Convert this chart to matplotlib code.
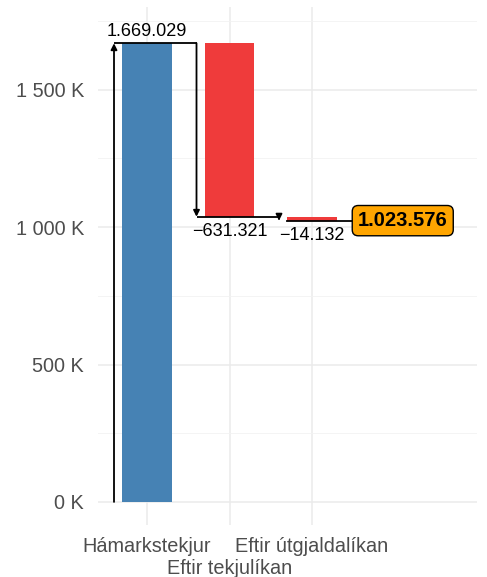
import numpy as np
import matplotlib.pyplot as plt
from matplotlib.ticker import FuncFormatter

plt.rcParams['font.family'] = ['Liberation Sans', 'DejaVu Sans']

# %%
categories = ['Hámarkstekjur', 'Eftir tekjulíkan', 'Eftir útgjaldalíkan']
changes = [1669029, -631321, -14132]
bar_colors = ['#4682B4', '#EF3B3B', '#EF3B3B']


def isl(v):
    s = f"{abs(v):,.0f}".replace(',', '.')
    return ('\u2212' + s) if v < 0 else s


# %%
levels = np.cumsum(changes)
starts = np.concatenate([[0], levels[:-1]])
x = np.arange(1, len(categories) + 1)
w = 0.6

fig = plt.figure(figsize=(4.87, 5.77), dpi=100)
ax = fig.add_axes([98 / 487, 52 / 577, 379 / 487, 518 / 577])

for i in range(len(changes)):
    lo, hi = sorted([starts[i], levels[i]])
    ax.bar(x[i], hi - lo, bottom=lo, width=w, color=bar_colors[i], zorder=2)

# step arrows and connectors
for i in range(len(changes)):
    left = x[i] - w / 2
    ax.annotate('', xy=(left - 0.1, levels[i]), xytext=(left - 0.1, starts[i]),
                arrowprops=dict(arrowstyle='-|>', color='black', lw=1.3,
                                mutation_scale=9, shrinkA=0, shrinkB=0),
                zorder=4)
    if i < len(changes) - 1:
        ax.plot([left - 0.1, x[i + 1] - w / 2 - 0.1], [levels[i], levels[i]],
                color='black', lw=1.3, zorder=3, solid_capstyle='butt')
    else:
        ax.plot([left, 3.5], [levels[i], levels[i]], color='black', lw=1.3, zorder=3)

# value labels
ax.text(x[0], levels[0] + 12000, isl(changes[0]), ha='center', va='bottom', fontsize=13, zorder=5)
for i in range(1, len(changes)):
    ax.text(x[i], levels[i] - 24000, isl(changes[i]), ha='center', va='top', fontsize=13, zorder=5)

ax.text(4.1, levels[-1], isl(levels[-1]), ha='center', va='center', fontsize=14.5,
        fontweight='bold', zorder=6,
        bbox=dict(boxstyle='round,pad=0.28,rounding_size=0.3', fc='#FFA500', ec='black', lw=1))

# %%
ax.set_xlim(0.406, 5.0)
ax.set_ylim(-84000, 1801000)
# middle label goes on a second row (minor tick with larger pad)
ax.xaxis.remove_overlapping_locs = False
ax.set_xticks(x)
ax.set_xticklabels([categories[0], '', categories[2]])
ax.set_xticks([x[1]], minor=True)
ax.set_xticklabels([categories[1]], minor=True)
ax.set_yticks([0, 500000, 1000000, 1500000])
ax.set_yticks([250000, 750000, 1250000, 1750000], minor=True)
ax.yaxis.set_major_formatter(FuncFormatter(lambda v, p: f"{v / 1000:,.0f} K".replace(',', ' ')))
ax.tick_params(axis='both', which='both', length=0, labelsize=14.3, labelcolor='#4D4D4D')
ax.tick_params(axis='x', which='major', pad=9)
ax.tick_params(axis='x', which='minor', pad=24.5)
ax.tick_params(axis='y', pad=10)
ax.grid(True, which='major', color='#EBEBEB', lw=1.1, zorder=0)
ax.grid(True, which='minor', axis='y', color='#F2F2F2', lw=0.6, zorder=0)
ax.set_axisbelow(True)
for s in ax.spines.values():
    s.set_visible(False)

fig.savefig('out.png', dpi=100)
